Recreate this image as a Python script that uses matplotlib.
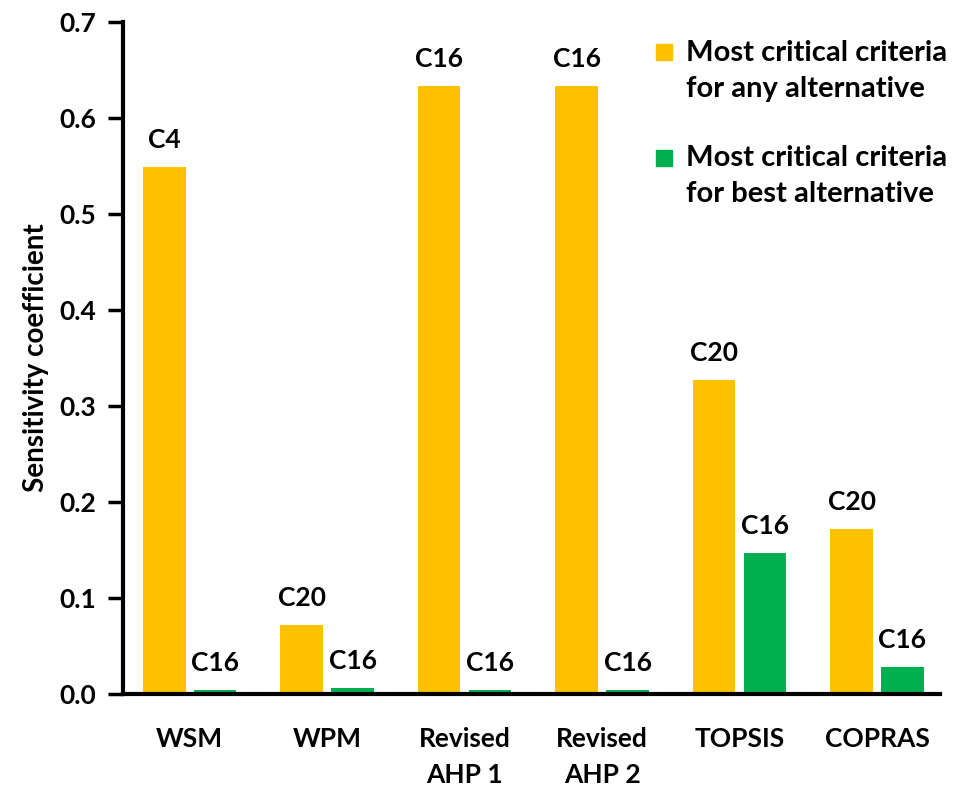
import numpy as np
import matplotlib
matplotlib.use("Agg")
from matplotlib import pyplot as plt
from matplotlib.patches import Rectangle

methods = ["WSM", "WPM", "Revised\nAHP 1", "Revised\nAHP 2", "TOPSIS", "COPRAS"]
any_alt = [0.549, 0.072, 0.633, 0.633, 0.327, 0.172]
best_alt = [0.004, 0.006, 0.004, 0.004, 0.147, 0.028]
any_labels = ["C4", "C20", "C16", "C16", "C20", "C20"]
best_labels = ["C16", "C16", "C16", "C16", "C16", "C16"]
legend_labels = ["Most critical criteria\nfor any alternative",
                 "Most critical criteria\nfor best alternative"]

orange = "#FFC000"
green = "#00B050"

plt.rcParams['font.family'] = ['Lato', 'DejaVu Sans']

fig = plt.figure(figsize=(9.6, 7.99), dpi=100)
ax = fig.add_axes([0.128, 0.1314, 0.851, 0.8411])

x = np.arange(len(methods))
w = 0.31
off = 0.185
b1 = ax.bar(x - off, any_alt, w, color=orange)
b2 = ax.bar(x + off, best_alt, w, color=green)

# criterion names above the bars
for rect, lab in zip(b1, any_labels):
    ax.text(rect.get_x() + rect.get_width() / 2, rect.get_height() + 0.016, lab,
            ha="center", va="bottom", fontsize=19, fontweight="bold")
for rect, lab in zip(b2, best_labels):
    ax.text(rect.get_x() + rect.get_width() / 2, rect.get_height() + 0.016, lab,
            ha="center", va="bottom", fontsize=19, fontweight="bold")

ax.set_xlim(-0.486, 5.457)
ax.set_ylim(0, 0.7)
ticks = np.arange(0, 0.71, 0.1)
ax.set_yticks(ticks)
ax.set_yticklabels([f"{v:.1f}" for v in ticks], fontsize=19, fontweight="bold")
ax.set_xticks(x)
ax.set_xticklabels(methods, fontsize=19, fontweight="bold", linespacing=1.6, va="top")
ax.tick_params(axis="x", length=0, pad=24)
ax.tick_params(axis="y", length=11, width=2.5, direction="out", pad=8)
ax.set_ylabel("Sensitivity coefficient", fontsize=20, fontweight="bold", labelpad=8)

for s in ["top", "right"]:
    ax.spines[s].set_visible(False)
for s in ["left", "bottom"]:
    ax.spines[s].set_linewidth(3)

# legend drawn by hand so the square sits on the first text line
for (sq_y, txt_y), col, lab in zip([(0.943, 0.927), (0.786, 0.771)], [orange, green], legend_labels):
    ax.add_patch(Rectangle((0.652, sq_y), 0.020, 0.024, transform=ax.transAxes,
                           color=col, clip_on=False))
    ax.text(0.689, txt_y, lab, transform=ax.transAxes, ha="left", va="center",
            fontsize=21, fontweight="bold", linespacing=1.5)

fig.savefig("out.png", dpi=100)
